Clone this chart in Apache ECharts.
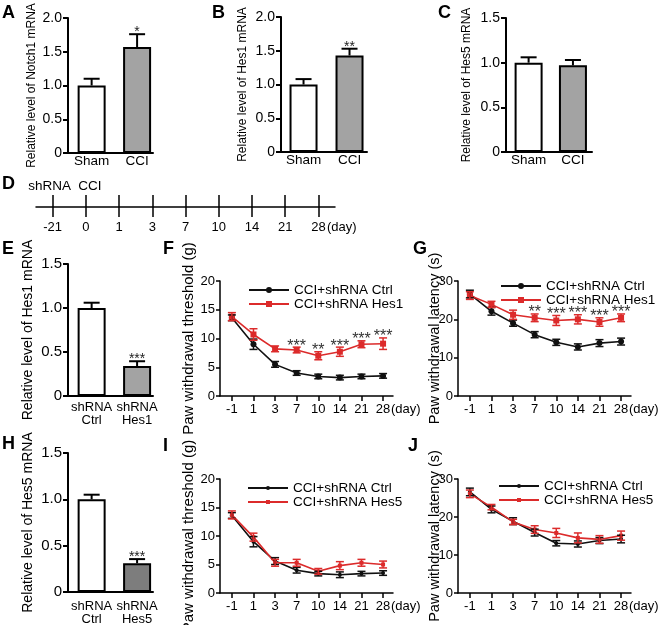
<!DOCTYPE html>
<html><head><meta charset="utf-8">
<script src="https://cdn.jsdelivr.net/npm/echarts@6/dist/echarts.min.js"></script>
<style>html,body{margin:0;padding:0;background:#fff}#c{width:664px;height:625px}</style>
</head><body><div id="c"></div>
<script>
const FONT = 'Liberation Sans, Arial, sans-serif';

// ---- Panel A: Notch1 mRNA
const catsA = ['Sham', 'CCI'];
const notch1Mean = [1.00, 1.57];
const notch1Err = [0.10, 0.19];
const notch1Stars = ['', '*'];
// ---- Panel B: Hes1 mRNA
const catsB = ['Sham', 'CCI'];
const hes1CciMean = [1.00, 1.43];
const hes1CciErr = [0.08, 0.10];
const hes1CciStars = ['', '**'];
// ---- Panel C: Hes5 mRNA
const catsC = ['Sham', 'CCI'];
const hes5CciMean = [1.00, 0.97];
const hes5CciErr = [0.06, 0.06];
const hes5CciStars = ['', ''];
// ---- Panel D: timeline
const timelineDays = ['-21', '0', '1', '3', '7', '10', '14', '21', '28'];
const timelineEvents = ['shRNA', 'CCI', '', '', '', '', '', '', ''];
// ---- Panel E: Hes1 knockdown
const catsE = ['shRNA\nCtrl', 'shRNA\nHes1'];
const kdHes1Mean = [1.00, 0.34];
const kdHes1Err = [0.06, 0.055];
const kdHes1Stars = ['', '***'];
// ---- Panel H: Hes5 knockdown
const catsH = ['shRNA\nCtrl', 'shRNA\nHes5'];
const kdHes5Mean = [1.00, 0.31];
const kdHes5Err = [0.05, 0.045];
const kdHes5Stars = ['', '***'];

// ---- Behaviour panels
const days = ['-1', '1', '3', '7', '10', '14', '21', '28'];
// F: threshold, Hes1
const fCtrlMean = [13.6, 9.0, 5.5, 4.0, 3.4, 3.2, 3.4, 3.5];
const fCtrlErr  = [0.5, 0.9, 0.5, 0.4, 0.4, 0.4, 0.4, 0.4];
const fHes1Mean = [13.8, 10.7, 8.2, 8.0, 7.0, 7.7, 9.0, 9.1];
const fHes1Err  = [0.7, 1.0, 0.5, 0.5, 0.7, 0.8, 0.6, 1.0];
const fStars    = ['', '', '', '***', '**', '***', '***', '***'];
// G: latency, Hes1
const gCtrlMean = [26.6, 22.1, 19.0, 16.0, 14.0, 12.8, 13.8, 14.2];
const gCtrlErr  = [1.0, 1.0, 0.8, 0.8, 0.8, 0.8, 0.9, 0.9];
const gHes1Mean = [26.2, 23.9, 21.2, 20.4, 19.7, 20.0, 19.3, 20.4];
const gHes1Err  = [1.0, 0.8, 1.2, 1.0, 1.3, 1.2, 1.1, 1.0];
const gStars    = ['', '', '', '**', '***', '***', '***', '***'];
// I: threshold, Hes5
const iCtrlMean = [13.6, 9.0, 5.6, 4.0, 3.4, 3.2, 3.4, 3.5];
const iCtrlErr  = [0.5, 0.9, 0.6, 0.5, 0.4, 0.5, 0.4, 0.4];
const iHes5Mean = [13.7, 9.8, 5.3, 5.3, 3.8, 4.8, 5.3, 5.0];
const iHes5Err  = [0.7, 0.7, 0.6, 0.6, 0.5, 0.7, 0.6, 0.6];
const iStars    = ['', '', '', '', '', '', '', ''];
// J: latency, Hes5
const jCtrlMean = [26.6, 22.0, 18.9, 15.9, 13.1, 12.9, 13.8, 14.2];
const jCtrlErr  = [1.0, 0.9, 0.9, 0.9, 0.7, 0.8, 0.8, 1.0];
const jHes5Mean = [26.1, 22.6, 18.7, 16.7, 15.8, 14.5, 14.1, 15.1];
const jHes5Err  = [1.0, 0.7, 0.7, 1.0, 1.2, 1.3, 1.0, 1.2];
const jStars    = ['', '', '', '', '', '', '', ''];

const RED = '#dc2b2b', BLK = '#111111';

const grids = [], xAxes = [], yAxes = [], series = [], legends = [];

function barPanel(p) {
  const gi = grids.length, xi = xAxes.length, yi = yAxes.length;
  grids.push({left: p.left, top: p.top, width: p.width, height: p.height, outerBoundsMode: 'none', containLabel: false});
  xAxes.push({gridIndex: gi, type: 'value', min: p.xmin, max: p.xmax,
    axisLine: {show: true, onZero: false, lineStyle: {color: '#000', width: 2}},
    axisTick: {show: false}, splitLine: {show: false},
    axisLabel: {customValues: [0, 1], formatter: v => p.cats[Math.round(v)], color: '#000',
      fontSize: p.catSize, fontFamily: FONT, margin: p.catMargin, lineHeight: 13}});
  yAxes.push({gridIndex: gi, type: 'value', min: 0, max: p.ymax, interval: 0.5,
    axisLine: {show: true, onZero: false, lineStyle: {color: '#000', width: 2}},
    axisTick: {show: true, length: 5, lineStyle: {color: '#000', width: 2}},
    splitLine: {show: false},
    axisLabel: {color: '#000', fontSize: p.tickSize, fontFamily: FONT, margin: 6,
      formatter: v => v === 0 ? '0' : v.toFixed(1)},
    name: p.name, nameLocation: 'middle', nameGap: p.nameGap, nameMoveOverlap: false,
    nameTextStyle: {color: '#000', fontSize: p.nameSize, fontFamily: FONT}});
  series.push({type: 'bar', xAxisIndex: xi, yAxisIndex: yi, barWidth: 28, silent: true, z: 3,
    data: p.mean.map((m, i) => ({value: [i, m], itemStyle: {color: p.colors[i]}})),
    itemStyle: {borderColor: '#000', borderWidth: 2}});
  series.push({type: 'custom', xAxisIndex: xi, yAxisIndex: yi, silent: true, z: 5,
    data: p.mean.map((m, i) => [i, m, p.err[i]]),
    renderItem: (params, api) => {
      const x = api.value(0), m = api.value(1), e = api.value(2);
      const a = api.coord([x, m]), b = api.coord([x, m + e]);
      const ch = [
        {type: 'line', shape: {x1: a[0], y1: a[1], x2: b[0], y2: b[1]}, style: {stroke: '#000', lineWidth: 2}},
        {type: 'line', shape: {x1: b[0] - 8, y1: b[1], x2: b[0] + 8, y2: b[1]}, style: {stroke: '#000', lineWidth: 2}}
      ];
      const st = p.stars[params.dataIndex];
      if (st) ch.push({type: 'text', style: {text: st, x: b[0], y: b[1] - 2, align: 'center', verticalAlign: 'middle',
        fontSize: 14, fontFamily: FONT, fill: '#222'}});
      return {type: 'group', children: ch};
    }});
}

function linePanel(p) {
  const gi = grids.length, xi = xAxes.length, yi = yAxes.length;
  const idx = days.map((d, i) => i);
  grids.push({left: p.left, top: p.top, width: 173, height: p.height, outerBoundsMode: 'none', containLabel: false});
  xAxes.push({gridIndex: gi, type: 'value', min: -0.55, max: 7.46,
    axisLine: {show: true, onZero: false, lineStyle: {color: '#000', width: 1.5}},
    axisTick: {show: true, customValues: idx, length: 5, lineStyle: {color: '#000', width: 1.5}},
    axisLabel: {customValues: idx, formatter: v => days[Math.round(v)], color: '#000', fontSize: 13, fontFamily: FONT, margin: 7},
    splitLine: {show: false},
    name: '(day)', nameLocation: 'end', nameGap: -2, nameMoveOverlap: false,
    nameTextStyle: {color: '#000', fontSize: 13, fontFamily: FONT, verticalAlign: 'top', align: 'left', padding: [7, 0, 0, 0]}});
  yAxes.push({gridIndex: gi, type: 'value', min: 0, max: p.ymax, interval: p.yint,
    axisLine: {show: true, onZero: false, lineStyle: {color: '#000', width: 1.5}},
    axisTick: {show: true, length: 4, lineStyle: {color: '#000', width: 1.5}},
    splitLine: {show: false},
    axisLabel: {color: '#000', fontSize: 13, fontFamily: FONT, margin: 5},
    name: p.name, nameLocation: 'middle', nameGap: p.nameGap, nameMoveOverlap: false,
    nameTextStyle: {color: '#000', fontSize: p.nameSize, fontFamily: FONT}});
  p.groups.forEach(s => {
    series.push({type: 'line', name: s.name, xAxisIndex: xi, yAxisIndex: yi, silent: true,
      data: s.mean.map((m, i) => [i, m]), symbol: s.symbol, symbolSize: p.symSize,
      lineStyle: {color: s.color, width: 1.6}, itemStyle: {color: s.color}, z: 3});
    series.push({type: 'custom', xAxisIndex: xi, yAxisIndex: yi, silent: true, z: 4,
      data: s.mean.map((m, i) => [i, m, s.err[i]]),
      renderItem: (params, api) => {
        const x = api.value(0), m = api.value(1), e = api.value(2);
        const lo = api.coord([x, m - e]), hi = api.coord([x, m + e]);
        const cw = 4, st = {stroke: s.color, lineWidth: 1.5};
        const ch = [
          {type: 'line', shape: {x1: lo[0], y1: lo[1], x2: hi[0], y2: hi[1]}, style: st},
          {type: 'line', shape: {x1: lo[0] - cw, y1: lo[1], x2: lo[0] + cw, y2: lo[1]}, style: st},
          {type: 'line', shape: {x1: hi[0] - cw, y1: hi[1], x2: hi[0] + cw, y2: hi[1]}, style: st}
        ];
        const star = s.stars ? s.stars[params.dataIndex] : '';
        if (star) ch.push({type: 'text', style: {text: star, x: hi[0], y: hi[1] - 1, align: 'center', verticalAlign: 'middle',
          fontSize: 16, fontFamily: FONT, fill: '#333'}});
        return {type: 'group', children: ch};
      }});
  });
  legends.push({left: p.legLeft, top: p.legTop, orient: 'vertical', itemWidth: 40, itemHeight: p.legH, itemGap: 0,
    selectedMode: false, data: p.groups.map(s => s.name),
    textStyle: {fontSize: 13.5, color: '#000', fontFamily: FONT, lineHeight: 14}});
}

// Bars
barPanel({left: 68, top: 18, width: 85, height: 135, xmin: -0.52, xmax: 1.35, ymax: 2.0, cats: catsA,
  mean: notch1Mean, err: notch1Err, stars: notch1Stars, colors: ['#ffffff', '#a3a3a3'],
  name: 'Relative level of Notch1 mRNA', nameGap: 30, nameSize: 12, tickSize: 14, catSize: 13.5, catMargin: 2});
barPanel({left: 281, top: 17, width: 86, height: 135, xmin: -0.49, xmax: 1.38, ymax: 2.0, cats: catsB,
  mean: hes1CciMean, err: hes1CciErr, stars: hes1CciStars, colors: ['#ffffff', '#a3a3a3'],
  name: 'Relative level of Hes1 mRNA', nameGap: 32, nameSize: 12, tickSize: 14, catSize: 13.5, catMargin: 2});
barPanel({left: 506, top: 18, width: 86, height: 134, xmin: -0.51, xmax: 1.43, ymax: 1.5, cats: catsC,
  mean: hes5CciMean, err: hes5CciErr, stars: hes5CciStars, colors: ['#ffffff', '#a3a3a3'],
  name: 'Relative level of Hes5 mRNA', nameGap: 33, nameSize: 12, tickSize: 14, catSize: 13.5, catMargin: 2});
barPanel({left: 68, top: 264, width: 85, height: 132, xmin: -0.52, xmax: 1.35, ymax: 1.5, cats: catsE,
  mean: kdHes1Mean, err: kdHes1Err, stars: kdHes1Stars, colors: ['#ffffff', '#a3a3a3'],
  name: 'Relative level of Hes1 mRNA', nameGap: 33, nameSize: 14, tickSize: 15, catSize: 13, catMargin: 5});
barPanel({left: 68, top: 453, width: 85, height: 139, xmin: -0.52, xmax: 1.35, ymax: 1.5, cats: catsH,
  mean: kdHes5Mean, err: kdHes5Err, stars: kdHes5Stars, colors: ['#ffffff', '#7d7d7d'],
  name: 'Relative level of Hes5 mRNA', nameGap: 33, nameSize: 14, tickSize: 15, catSize: 13, catMargin: 8});

// Timeline (D)
const gD = grids.length;
const eventShift = [[0, 6, 0, 0], [0, 0, 0, 8]];
grids.push({left: 36, width: 299, top: 150, height: 57, outerBoundsMode: 'none', containLabel: false});
xAxes.push({gridIndex: gD, type: 'category', data: timelineDays, position: 'bottom', boundaryGap: true,
  axisLine: {show: true, onZero: false, lineStyle: {color: '#000', width: 1.5}},
  axisTick: {show: true, alignWithLabel: true, interval: 0, length: 10, lineStyle: {color: '#000', width: 1.5}},
  axisLabel: {interval: 0, color: '#000', fontSize: 13, fontFamily: FONT, margin: 14},
  name: '(day)', nameLocation: 'end', nameGap: -8, nameMoveOverlap: false,
  nameTextStyle: {color: '#000', fontSize: 13, fontFamily: FONT, verticalAlign: 'top', align: 'left', padding: [14, 0, 0, 0]}});
xAxes.push({gridIndex: gD, type: 'category', position: 'bottom', boundaryGap: true,
  data: timelineEvents.map((t, i) => eventShift[i] ? {value: t, textStyle: {padding: eventShift[i]}} : t),
  axisLine: {show: false, onZero: false},
  axisTick: {show: true, inside: true, alignWithLabel: true, interval: 0, length: 12, lineStyle: {color: '#000', width: 1.5}},
  axisLabel: {inside: true, interval: 0, color: '#000', fontSize: 13.5, fontFamily: FONT, margin: 14}});
yAxes.push({gridIndex: gD, type: 'value', show: false});

// Lines
linePanel({left: 220, top: 281, height: 115, ymax: 20, yint: 5, name: 'Paw withdrawal threshold (g)', nameGap: 24,
  nameSize: 15, symSize: 6, legLeft: 243, legTop: 278, legH: 7.5,
  groups: [
    {name: 'CCI+shRNA Ctrl', mean: fCtrlMean, err: fCtrlErr, color: BLK, symbol: 'circle'},
    {name: 'CCI+shRNA Hes1', mean: fHes1Mean, err: fHes1Err, color: RED, symbol: 'rect', stars: fStars}
  ]});
linePanel({left: 458, top: 281, height: 115, ymax: 30, yint: 10, name: 'Paw withdrawal latency (s)', nameGap: 16,
  nameSize: 14.5, symSize: 6, legLeft: 495, legTop: 274, legH: 7.5,
  groups: [
    {name: 'CCI+shRNA Ctrl', mean: gCtrlMean, err: gCtrlErr, color: BLK, symbol: 'circle'},
    {name: 'CCI+shRNA Hes1', mean: gHes1Mean, err: gHes1Err, color: RED, symbol: 'rect', stars: gStars}
  ]});
linePanel({left: 220, top: 479, height: 114, ymax: 20, yint: 5, name: 'Paw withdrawal threshold (g)', nameGap: 24,
  nameSize: 15, symSize: 4, legLeft: 242, legTop: 476, legH: 5,
  groups: [
    {name: 'CCI+shRNA Ctrl', mean: iCtrlMean, err: iCtrlErr, color: BLK, symbol: 'circle', stars: iStars},
    {name: 'CCI+shRNA Hes5', mean: iHes5Mean, err: iHes5Err, color: RED, symbol: 'rect', stars: iStars}
  ]});
linePanel({left: 458, top: 479, height: 114, ymax: 30, yint: 10, name: 'Paw withdrawal latency (s)', nameGap: 16,
  nameSize: 14.5, symSize: 4, legLeft: 493, legTop: 474, legH: 5,
  groups: [
    {name: 'CCI+shRNA Ctrl', mean: jCtrlMean, err: jCtrlErr, color: BLK, symbol: 'circle', stars: jStars},
    {name: 'CCI+shRNA Hes5', mean: jHes5Mean, err: jHes5Err, color: RED, symbol: 'rect', stars: jStars}
  ]});

const panelLetters = [['A', 2, 4], ['B', 212, 4], ['C', 438, 4], ['D', 2, 175], ['E', 2, 240], ['F', 163, 240],
  ['G', 413, 240], ['H', 2, 435], ['I', 163, 437], ['J', 408, 437]];

const chart = echarts.init(document.getElementById('c'), null, {renderer: 'canvas'});
chart.setOption({
  animation: false,
  backgroundColor: '#fff',
  textStyle: {fontFamily: FONT},
  grid: grids, xAxis: xAxes, yAxis: yAxes, series: series, legend: legends,
  graphic: panelLetters.map(l => ({type: 'text', left: l[1], top: l[2], silent: true,
    style: {text: l[0], fontSize: 18, fontWeight: 'bold', fontFamily: FONT, fill: '#000'}}))
});
</script></body></html>
